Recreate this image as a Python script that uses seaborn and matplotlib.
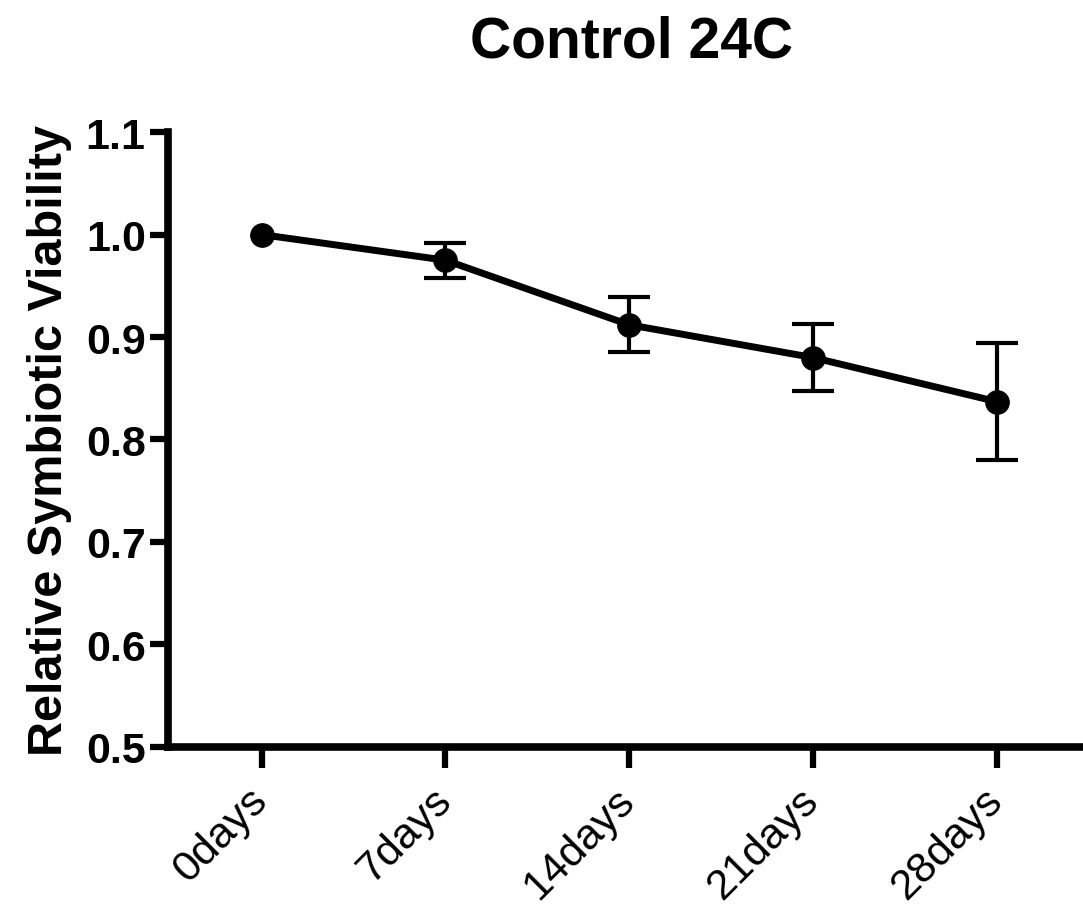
import matplotlib
matplotlib.use("Agg")
import matplotlib.pyplot as plt
import seaborn as sns
import pandas as pd
import numpy as np

# Relative symbiotic viability over time, control at 24C
days = ["0days", "7days", "14days", "21days", "28days"]
viability = [1.000, 0.975, 0.912, 0.880, 0.837]
err = [0.000, 0.017, 0.027, 0.033, 0.057]
y_ticks = [0.5, 0.6, 0.7, 0.8, 0.9, 1.0, 1.1]

sns.set_style("ticks", {"axes.edgecolor": "black", "text.color": "black",
                        "xtick.color": "black", "ytick.color": "black",
                        "axes.labelcolor": "black"})
plt.rcParams["font.family"] = ["Liberation Sans", "DejaVu Sans"]

df = pd.DataFrame({"pos": np.arange(len(days)), "day": days,
                   "viability": viability, "err": err})

fig = plt.figure(figsize=(10.83, 9.12), dpi=100)
ax = fig.add_axes([0.155, 0.180, 0.845, 0.674])

# error bars only where there is spread
bars = df[df["err"] > 0]
ax.errorbar(bars["pos"], bars["viability"], yerr=bars["err"], fmt="none",
            ecolor="black", elinewidth=3, capsize=15, capthick=3, zorder=2)
sns.lineplot(data=df, x="pos", y="viability", ax=ax, color="black",
             linewidth=5, marker="o", markersize=17,
             markeredgecolor="black", zorder=3)

ax.set_xlim(-0.51, 4.47)
ax.set_ylim(0.5, 1.1)
ax.set_yticks(y_ticks)
ax.set_yticklabels([f"{v:.1f}" for v in y_ticks], fontweight="bold")
ax.set_xticks(df["pos"])
ax.set_xticklabels(days, rotation=45, ha="right", va="center",
                   rotation_mode="anchor", fontweight="normal")

ax.tick_params(axis="y", length=13, width=4.5, labelsize=31, pad=3)
ax.tick_params(axis="x", length=15, width=4.5, labelsize=31, pad=19)

for side in ["left", "bottom"]:
    ax.spines[side].set_linewidth(5.5)
ax.spines["top"].set_visible(False)
ax.spines["right"].set_visible(False)

ax.set_xlabel("")
ax.set_ylabel("Relative Symbiotic Viability", fontsize=35, fontweight="bold",
              labelpad=10)
fig.text(0.583, 0.953, "Control 24C", ha="center", va="center",
         fontsize=41, fontweight="bold")

fig.savefig("out.png", dpi=100)
